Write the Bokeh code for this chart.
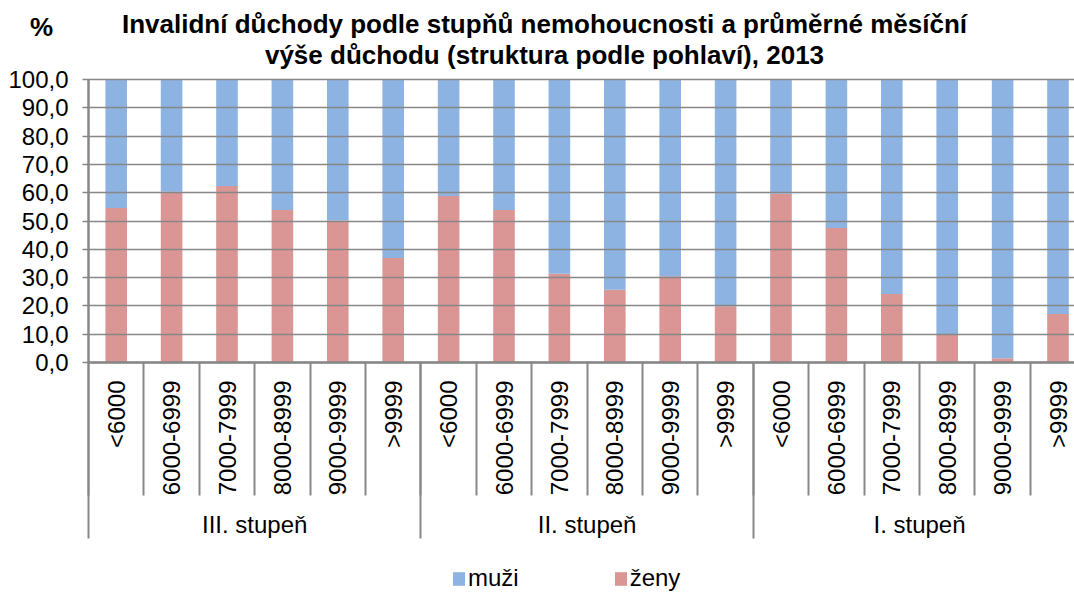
import math
from bokeh.plotting import figure
from bokeh.models import (ColumnDataSource, Range1d, LinearAxis, FixedTicker,
                          CustomJSTickFormatter, Label, Legend, LegendItem)
from bokeh.embed import file_html
from bokeh.resources import INLINE

# ---- data ----
groups = ["III. stupeň", "II. stupeň", "I. stupeň"]
bands = ["<6000", "6000-6999", "7000-7999", "8000-8999", "9000-9999", ">9999"]

zeny_III = [54.6, 60.3, 62.4, 53.9, 50.2, 36.9]
zeny_II = [58.8, 53.9, 31.4, 25.7, 30.5, 19.9]
zeny_I = [59.6, 47.5, 24.2, 10.0, 1.5, 17.1]

muzi_III = [45.4, 39.7, 37.6, 46.1, 49.8, 63.1]
muzi_II = [41.2, 46.1, 68.6, 74.3, 69.5, 80.1]
muzi_I = [40.4, 52.5, 75.8, 90.0, 98.5, 82.9]

y_ticks = [0, 10, 20, 30, 40, 50, 60, 70, 80, 90, 100]
y_tick_labels = ["0,0", "10,0", "20,0", "30,0", "40,0", "50,0",
                 "60,0", "70,0", "80,0", "90,0", "100,0"]

series_names = ["muži", "ženy"]
title_lines = ["Invalidní důchody podle stupňů nemohoucnosti a průměrné měsíční",
               "výše důchodu (struktura podle pohlaví), 2013"]
unit_label = "%"

# ---- layout / styles ----
FONT = "Liberation Sans"
BLUE = "#8DB3E2"
PINK = "#D99694"
GRAY = "#878787"
W, H = 1074, 592
PLOT_LEFT, PLOT_TOP, PLOT_BOTTOM = 88, 79, 362   # pixel positions of the value area
CAT_W = 55.4                                     # pixels per category

n_groups = len(groups)
n_bands = len(bands)
n = n_groups * n_bands
y_max = max(y_ticks)
px_per_unit = (PLOT_BOTTOM - PLOT_TOP) / y_max

x_start = -PLOT_LEFT / CAT_W
x_end = (W - PLOT_LEFT) / CAT_W
y_start = -(H - PLOT_BOTTOM) / px_per_unit
y_end = y_max + PLOT_TOP / px_per_unit

xs = [i + 0.5 for i in range(n)]
zeny = zeny_III + zeny_II + zeny_I
muzi = muzi_III + muzi_II + muzi_I
src = ColumnDataSource(dict(x=xs, zeny=zeny, muzi=muzi))

p = figure(width=W, height=H, output_backend="svg", toolbar_location=None,
           x_range=Range1d(x_start, x_end), y_range=Range1d(y_start, y_end),
           min_border=0, x_axis_type=None, y_axis_type=None,
           outline_line_color=None)
p.grid.visible = False
p.background_fill_color = "white"
p.border_fill_color = "white"

# bars
rs = p.vbar_stack(["zeny", "muzi"], x="x", width=0.39, color=[PINK, BLUE],
                  line_color=None, source=src)

# y axis (ticks pointing inward act as the horizontal grid lines)
yax = LinearAxis(
    fixed_location=0, bounds=(0, y_max),
    ticker=FixedTicker(ticks=y_ticks, minor_ticks=[]),
    major_label_overrides={t: lab for t, lab in zip(y_ticks, y_tick_labels)},
    major_label_text_font=FONT, major_label_text_font_size="24px",
    major_label_text_color="black", major_label_standoff=14,
    major_tick_out=6, major_tick_in=W,
    major_tick_line_color=GRAY, major_tick_line_width=1.5,
    minor_tick_out=0, minor_tick_in=0,
    axis_line_color=GRAY, axis_line_width=2.5)
p.add_layout(yax, "left")

# category axis
SEP1 = 133
xax1 = LinearAxis(
    fixed_location=0, bounds=(0, n),
    ticker=FixedTicker(ticks=xs, minor_ticks=list(range(n + 1))),
    formatter=CustomJSTickFormatter(args=dict(labels=bands),
                                    code="return labels[Math.floor(tick) % labels.length];"),
    major_label_orientation=math.pi / 2,
    major_label_text_font=FONT, major_label_text_font_size="24px",
    major_label_text_color="black", major_label_standoff=18 - SEP1,
    major_tick_out=0, major_tick_in=0,
    minor_tick_out=SEP1, minor_tick_in=0,
    minor_tick_line_color=GRAY, minor_tick_line_width=2,
    axis_line_color=GRAY, axis_line_width=2.5)
p.add_layout(xax1, "below")

# group axis
SEP2 = 176
xax2 = LinearAxis(
    fixed_location=0, bounds=(0, n),
    ticker=FixedTicker(ticks=[n_bands * g + n_bands / 2 for g in range(n_groups)],
                       minor_ticks=[n_bands * g for g in range(n_groups + 1)]),
    formatter=CustomJSTickFormatter(args=dict(labels=groups, nb=n_bands),
                                    code="return labels[Math.floor(tick / nb)];"),
    major_label_text_font=FONT, major_label_text_font_size="24px",
    major_label_text_color="black", major_label_standoff=148 - SEP2,
    major_tick_out=0, major_tick_in=0,
    minor_tick_out=SEP2, minor_tick_in=0,
    minor_tick_line_color=GRAY, minor_tick_line_width=2,
    axis_line_color=None)
p.add_layout(xax2, "below")

# legend
legend = Legend(items=[LegendItem(label=series_names[0], renderers=[rs[1]]),
                       LegendItem(label=series_names[1], renderers=[rs[0]])],
                orientation="horizontal", location=(451, 0),
                glyph_width=15, glyph_height=17, label_standoff=2, spacing=94,
                padding=0, margin=0, border_line_color=None,
                background_fill_alpha=0,
                label_text_font=FONT, label_text_font_size="24px",
                label_text_color="black")
p.add_layout(legend, "center")

# titles
for txt, cx, cy in [(title_lines[0], 544, H - 23), (title_lines[1], 544, H - 54),
                    (unit_label, 41, H - 26)]:
    p.add_layout(Label(x=cx, y=cy, x_units="screen", y_units="screen",
                       text=txt, text_align="center", text_baseline="middle",
                       text_font=FONT, text_font_size="26px",
                       text_font_style="bold", text_color="black"))

open("out.html", "w").write(file_html(p, INLINE))
